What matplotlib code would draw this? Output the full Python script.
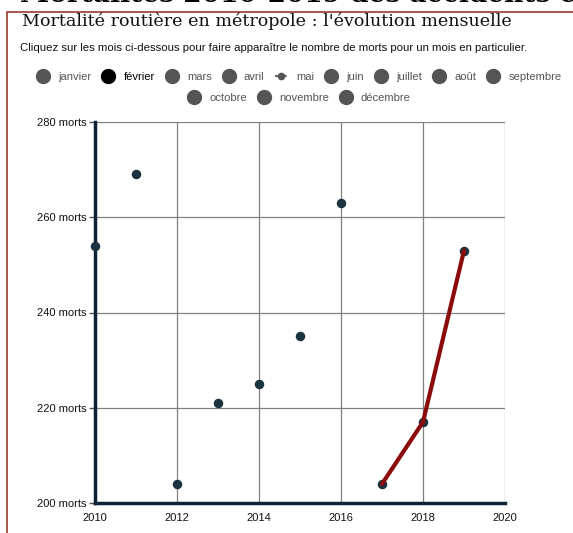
import matplotlib
matplotlib.use("Agg")
from matplotlib import pyplot as plt
from matplotlib.lines import Line2D
from matplotlib.patches import Rectangle

# Données (morts en février)
years = [2010, 2011, 2012, 2013, 2014, 2015, 2016, 2017, 2018, 2019]
deaths = [254, 269, 204, 221, 225, 235, 263, 204, 217, 253]
line_years = [2017, 2018, 2019]
line_deaths = [204, 217, 253]

months = ["janvier", "février", "mars", "avril", "mai", "juin", "juillet",
          "août", "septembre", "octobre", "novembre", "décembre"]
y_ticks = [200, 220, 240, 260, 280]
x_ticks = [2010, 2012, 2014, 2016, 2018, 2020]

W, H = 573, 533
plt.rcParams["font.family"] = ["Liberation Sans", "DejaVu Sans"]

fig = plt.figure(figsize=(W / 100, H / 100), dpi=100)
fig.patch.set_facecolor("white")

# cadre de la page
fig.add_artist(Rectangle((7 / W, -0.01), 1.0, 1 - 12 / H + 0.01,
                         transform=fig.transFigure, fill=False,
                         edgecolor="#9b3a2e", linewidth=1.2))
# titre de l'article, coupé en haut de la capture
fig.text(20 / W, 1 - 2 / H, "Mortalités 2010-2019 des accidents en février",
         fontsize=19, fontweight="bold", family="DejaVu Serif",
         va="baseline", ha="left", color="black")

fig.text(22 / W, 1 - 21 / H, "Mortalité routière en métropole : l'évolution mensuelle",
         fontsize=12.6, family="DejaVu Serif", va="center", ha="left", color="#111111")
fig.text(20 / W, 1 - 48 / H,
         "Cliquez sur les mois ci-dessous pour faire apparaître le nombre de morts pour un mois en particulier.",
         fontsize=8.2, va="center", ha="left", color="#111111")

# légende (deux rangées centrées)
def make_handles(names):
    handles = []
    for m in names:
        if m == "mai":
            h = Line2D([], [], color="#555555", marker="o", markersize=4.5,
                       linestyle="--", linewidth=1.3, dashes=(2.5, 1.5))
        else:
            c = "black" if m == "février" else "#555555"
            h = Line2D([], [], color=c, marker="o", markersize=10, linestyle="none")
        handles.append(h)
    return handles

rows = [(months[:9], 1 - 77 / H), (months[9:], 1 - 98 / H)]
for names, ypos in rows:
    leg = fig.legend(make_handles(names), names, loc="center",
                     bbox_to_anchor=(299 / W, ypos), ncol=len(names), frameon=False,
                     fontsize=8.1, handlelength=1.2, handletextpad=0.75,
                     columnspacing=0.9, borderaxespad=0, borderpad=0)
    for t in leg.get_texts():
        t.set_color("black" if t.get_text() == "février" else "#555555")

ax = fig.add_axes([95 / W, 1 - 503 / H, 410 / W, 381 / H])
ax.scatter(years, deaths, s=34, color="#1b3340", zorder=3, clip_on=False)
ax.plot(line_years, line_deaths, color="#8b0a0a", linewidth=3, zorder=4,
        solid_capstyle="round")

ax.set_xlim(2010, 2020)
ax.set_ylim(200, 280)
ax.set_xticks(x_ticks)
ax.set_yticks(y_ticks)
ax.set_yticklabels([f"{v} morts" for v in y_ticks])
ax.tick_params(axis="both", labelsize=8, colors="#111111")
ax.tick_params(axis="x", length=0, pad=7)
ax.tick_params(axis="y", length=4, width=1, color="#555555", pad=2)
ax.grid(True, color="#808080", linewidth=0.9)
ax.set_axisbelow(True)

for side in ["top", "right"]:
    ax.spines[side].set_visible(False)
for side in ["left", "bottom"]:
    ax.spines[side].set_color("#0b2239")
    ax.spines[side].set_linewidth(2.5)

fig.savefig("out.png", dpi=100)
